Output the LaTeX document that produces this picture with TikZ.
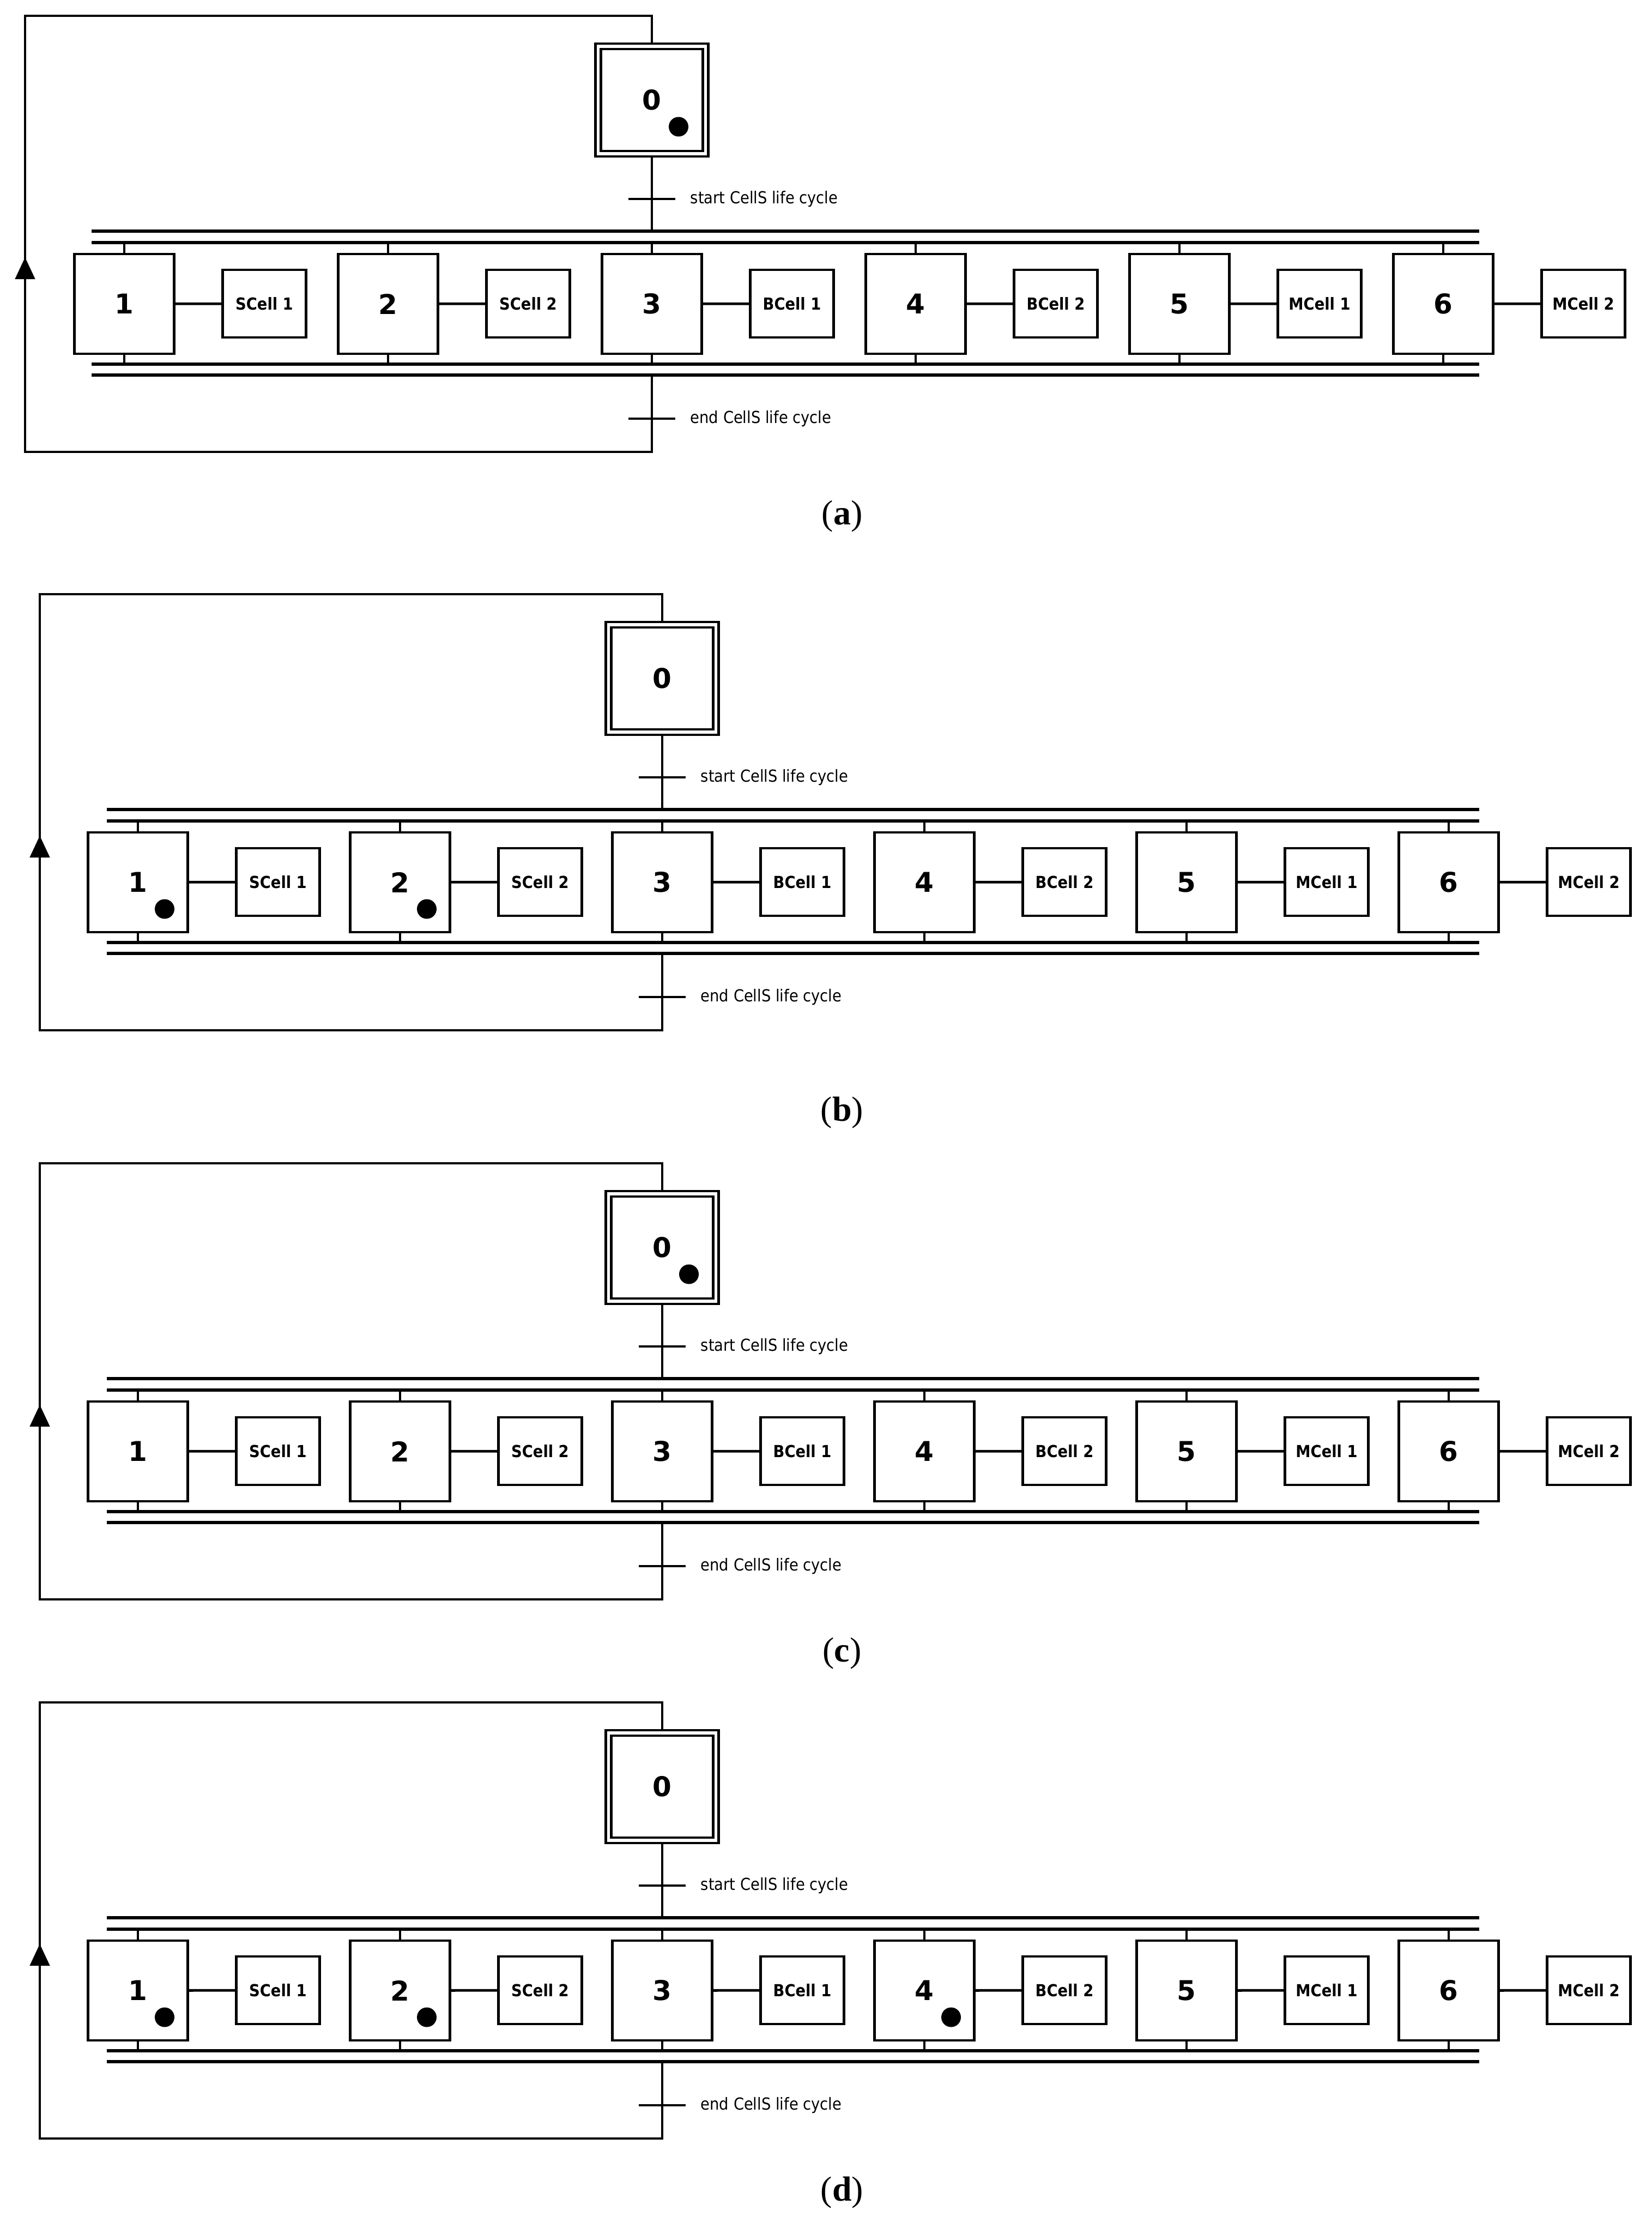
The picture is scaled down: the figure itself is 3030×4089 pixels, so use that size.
\documentclass[tikz,border=0pt]{standalone}
\usepackage{fontspec}
\setmainfont{DejaVu Sans}
\newfontfamily\condfont{DejaVu Sans Condensed}
\newfontfamily\capfont{Liberation Serif}
\usetikzlibrary{calc,arrows.meta}
\tikzset{
  line/.style={draw=black,line width=1.2pt},
  bar/.style={draw=black,line width=1.5pt},
  stepbox/.style={draw=black,line width=1.2pt,fill=white,minimum size=45.75pt,inner sep=0pt,font=\bfseries\fontsize{12.5}{14}\selectfont},
  cellbox/.style={draw=black,line width=1.2pt,fill=white,minimum width=38.25pt,minimum height=31pt,inner sep=0pt,font=\condfont\bfseries\fontsize{7.6}{9}\selectfont},
  tlabel/.style={anchor=west,inner sep=0pt,font=\condfont\fontsize{7.6}{9}\selectfont},
  captext/.style={font=\capfont\fontsize{16}{18}\selectfont},
}
\newcommand\grafpanel[8]{% #1 yoff, #2 x1, #3 pitch, #4 loopx, #5 barleft, #6 tokens, #7 prefix, #8 caption y
\begin{scope}[shift={(0,#1)}]
\pgfmathsetmacro\cx{#2+2*#3}
\draw[bar] (#5,424) -- (2714,424) (#5,445) -- (2714,445) (#5,668) -- (2714,668) (#5,688) -- (2714,688);
\node[stepbox,minimum size=51.75pt] (#7s0o) at (\cx,183.5) {};
\node[stepbox,minimum size=46.75pt] (#7s0) at (\cx,183.5) {0};
\foreach \k/\lab in {1/SCell 1,2/SCell 2,3/BCell 1,4/BCell 2,5/MCell 1,6/MCell 2}{
  \pgfmathsetmacro\xx{#2+(\k-1)*#3}
  \node[stepbox] (#7s\k) at (\xx,557.5) {\k};
  \node[cellbox] (#7c\k) at (\xx+257,557) {\lab};
  \draw[line] (#7s\k) -- (#7c\k);
  \draw[line] (#7s\k.north) -- ++(0,-21);
  \draw[line] (#7s\k.south) -- ++(0,19);
}
\coordinate (#7tt) at (\cx,365);
\coordinate (#7bt) at (\cx,424);
\coordinate (#7bb) at (\cx,688);
\coordinate (#7te) at (\cx,768);
\coordinate (#7lb) at (\cx,829);
\coordinate (#7lbl) at (#4,829);
\coordinate (#7ltl) at (#4,29);
\coordinate (#7lt) at (\cx,29);
\draw[line] (#7s0o.south) -- (#7tt) -- (#7bt);
\draw[line] (#7bb) -- (#7te) -- (#7lb) -- (#7lbl) -- (#7ltl) -- (#7lt) -- (#7s0o.north);
\draw[line] ($(#7tt)+(-43,0)$) -- ($(#7tt)+(43,0)$);
\draw[line] ($(#7te)+(-43,0)$) -- ($(#7te)+(43,0)$);
\node[tlabel] (#7lt1) at ($(#7tt)+(70,0)$) {start CellS life cycle};
\node[tlabel] (#7lt2) at ($(#7te)+(70,0)$) {end CellS life cycle};
\coordinate (#7a1) at (#4,560);
\coordinate (#7a2) at (#4,472);
\draw[line,-{Triangle[length=10pt,width=9pt]}] (#7a1) -- (#7a2);
\foreach \t in {#6}{\fill ($(#7s\t)+(49,49)$) circle (4.5pt);}
\node[captext] (#7cap) at (1545,#8) {(\textbf{#7})};
\end{scope}}
\begin{document}
\begin{tikzpicture}[x=0.25pt,y=-0.25pt]
\useasboundingbox (0,0) rectangle (3030,4089);
\fill[white] (0,0) rectangle (3030,4089);
\grafpanel{0}{228}{484}{46}{168}{0}{a}{947}
\grafpanel{1061}{253}{481}{73}{196}{1,2}{b}{980}
\grafpanel{2105}{253}{481}{73}{196}{0}{c}{928}
\grafpanel{3094}{253}{481}{73}{196}{1,2,4}{d}{928}
\end{tikzpicture}
\end{document}
